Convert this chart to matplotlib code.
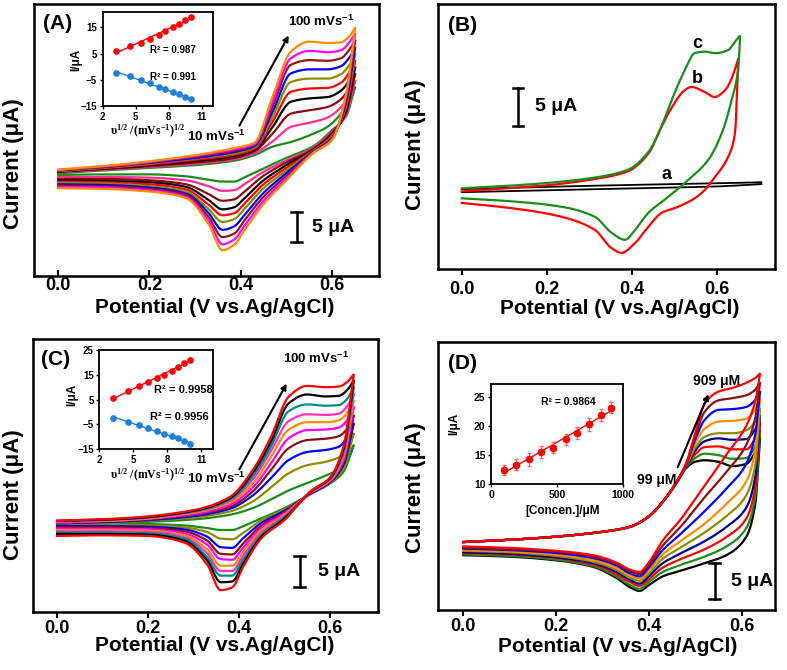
import numpy as np
import matplotlib
matplotlib.use('Agg')
import matplotlib.pyplot as plt

plt.rcParams['font.family'] = ['Liberation Sans', 'DejaVu Sans']
plt.rcParams['font.weight'] = 'bold'
plt.rcParams['mathtext.default'] = 'regular'
plt.rcParams['axes.linewidth'] = 1.8

# ---------------- (A) scan rates 10..100 mV/s ----------------
A_COLORS = ['#1a8c1a', '#ff2d95', '#8b0a0a', '#000000', '#ff0000',
            '#8c8c00', '#0000ff', '#8b1a1a', '#ff00ff', '#ff8c00']
A_UP_V = [0, 0.15, 0.30, 0.38, 0.43, 0.47, 0.51, 0.55, 0.59, 0.62, 0.64, 0.651]
A_UP_I = [
    [0.3, 0.9, 1.5, 2.1, 3.0, 4.3, 5.0, 6.0, 7.3, 9.3, 11.4, 13.4],
    [0.4, 1.0, 1.7, 2.3, 3.3, 5.1, 7.3, 7.9, 8.7, 10.3, 12.5, 14.4],
    [0.5, 1.1, 1.9, 2.5, 3.6, 6.3, 9.3, 9.8, 10.3, 11.5, 13.5, 15.4],
    [0.5, 1.2, 2.1, 2.8, 3.8, 7.3, 11.1, 11.6, 11.8, 12.8, 14.6, 16.4],
    [0.6, 1.3, 2.3, 3.0, 4.0, 8.1, 12.6, 13.1, 13.2, 14.0, 15.8, 17.4],
    [0.6, 1.4, 2.5, 3.2, 4.2, 8.8, 14.1, 14.6, 14.6, 15.3, 16.9, 18.4],
    [0.7, 1.5, 2.6, 3.4, 4.4, 9.6, 15.4, 16.0, 16.0, 16.5, 18.0, 19.4],
    [0.7, 1.5, 2.8, 3.6, 4.6, 10.4, 16.7, 17.4, 17.3, 17.7, 19.2, 20.5],
    [0.8, 1.6, 2.9, 3.8, 4.7, 11.1, 17.7, 18.8, 18.6, 18.9, 20.3, 21.5],
    [0.8, 1.7, 3.0, 4.0, 4.9, 11.9, 18.7, 20.2, 20.0, 20.1, 21.2, 22.4],
]
A_LO_V = [0, 0.10, 0.20, 0.28, 0.33, 0.36, 0.385, 0.41, 0.45, 0.50, 0.56, 0.60, 0.63, 0.651]
A_LO_I = [
    [0.0, 0.1, 0.1, -0.2, -0.7, -1.0, -1.0, -0.3, 1.0, 2.6, 4.4, 6.8, 8.8, 13.4],
    [-0.3, -0.3, -0.4, -0.8, -1.7, -2.4, -2.3, -1.3, 0.5, 2.2, 4.2, 6.6, 9.0, 14.4],
    [-0.6, -0.6, -0.8, -1.4, -2.9, -3.9, -3.7, -2.4, -0.1, 1.9, 4.0, 6.4, 9.3, 15.4],
    [-0.8, -0.9, -1.1, -1.8, -3.8, -5.2, -4.9, -3.4, -0.8, 1.5, 3.9, 6.2, 9.6, 16.4],
    [-1.0, -1.1, -1.4, -2.2, -4.5, -6.1, -5.8, -4.2, -1.4, 1.1, 3.8, 6.0, 10.0, 17.4],
    [-1.2, -1.3, -1.7, -2.5, -5.2, -7.1, -6.7, -5.0, -2.0, 0.7, 3.7, 5.8, 10.4, 18.4],
    [-1.4, -1.5, -1.9, -2.8, -5.8, -8.3, -7.8, -5.9, -2.7, 0.3, 3.6, 5.6, 10.8, 19.4],
    [-1.6, -1.7, -2.1, -3.0, -6.4, -9.4, -8.9, -6.7, -3.3, -0.1, 3.5, 5.5, 11.2, 20.5],
    [-1.8, -1.9, -2.3, -3.3, -7.0, -10.5, -9.8, -7.5, -3.9, -0.5, 3.4, 5.4, 11.6, 21.5],
    [-2.0, -2.1, -2.5, -3.5, -7.5, -11.4, -10.6, -8.2, -4.4, -0.8, 3.4, 5.3, 12.0, 22.4],
]
A_SQRT_RATE = [3.2, 4.5, 5.5, 6.3, 7.1, 7.7, 8.4, 8.9, 9.5, 10.0]
A_IPA = [6.0, 7.8, 9.2, 10.7, 12.2, 13.7, 15.0, 16.4, 17.7, 19.0]
A_IPC = [-2.3, -3.6, -5.1, -6.4, -7.7, -8.7, -9.6, -10.6, -11.5, -12.5]

# ---------------- (B) electrodes a, b, c ----------------
B_A_UP_V = [0, 0.2, 0.4, 0.6, 0.705]
B_A_UP_I = [0.1, 0.4, 0.65, 0.85, 1.0]
B_A_LO_V = [0, 0.2, 0.4, 0.6, 0.705]
B_A_LO_I = [-0.3, -0.05, 0.2, 0.45, 0.75]
B_B_UP_V = [0, 0.1, 0.2, 0.3, 0.39, 0.44, 0.47, 0.495, 0.525, 0.54, 0.57, 0.595, 0.62, 0.635, 0.651]
B_B_UP_I = [-0.2, 0.2, 0.6, 1.3, 2.4, 4.8, 8.2, 10.8, 13.0, 13.4, 12.8, 12.1, 13.0, 14.5, 17.1]
B_B_LO_V = [0, 0.12, 0.235, 0.313, 0.353, 0.376, 0.408, 0.439, 0.47, 0.509, 0.548, 0.572, 0.596, 0.627, 0.643, 0.651]
B_B_LO_I = [-1.7, -2.4, -3.5, -5.2, -7.6, -8.2, -6.9, -4.8, -3.0, -2.2, -1.1, 0.0, 1.7, 4.3, 7.4, 17.1]
B_C_UP_V = [0, 0.1, 0.2, 0.3, 0.39, 0.44, 0.47, 0.494, 0.525, 0.548, 0.572, 0.596, 0.627, 0.643, 0.655]
B_C_UP_I = [0.2, 0.5, 0.9, 1.5, 2.6, 5.0, 8.3, 11.7, 15.6, 17.8, 18.0, 17.8, 18.2, 19.3, 20.1]
B_C_LO_V = [0, 0.12, 0.235, 0.313, 0.353, 0.384, 0.408, 0.439, 0.486, 0.533, 0.58, 0.612, 0.635, 0.651, 0.655]
B_C_LO_I = [-1.1, -1.5, -2.2, -3.5, -5.6, -6.5, -5.2, -3.0, -0.9, 1.3, 3.9, 7.4, 11.7, 16.0, 20.1]

# ---------------- (C) scan rates 10..100 mV/s ----------------
C_COLORS = ['#1a8c1a', '#8c8c00', '#0000ff', '#8b1010', '#ff00ff',
            '#ff8c00', '#ff33bb', '#008b8b', '#000000', '#ff0000']
C_UP_V = [0, 0.15, 0.30, 0.38, 0.43, 0.47, 0.51, 0.55, 0.59, 0.62, 0.64, 0.653]
C_UP_I = [
    [0.8, 1.1, 1.6, 2.3, 3.3, 4.6, 6.0, 7.1, 8.2, 9.2, 10.8, 12.9],
    [0.9, 1.2, 1.9, 2.8, 4.3, 6.4, 8.6, 9.8, 10.3, 11.0, 12.6, 14.7],
    [1.0, 1.3, 2.1, 3.2, 5.2, 7.8, 10.6, 11.8, 12.1, 12.6, 14.2, 16.2],
    [1.0, 1.4, 2.3, 3.5, 5.8, 9.0, 12.4, 13.6, 13.8, 14.2, 15.5, 17.4],
    [1.1, 1.5, 2.4, 3.8, 6.4, 10.0, 13.9, 15.1, 15.2, 15.5, 16.8, 18.7],
    [1.2, 1.5, 2.6, 4.1, 7.0, 11.0, 15.2, 16.3, 16.3, 16.6, 17.9, 19.7],
    [1.2, 1.6, 2.7, 4.4, 7.6, 11.9, 16.5, 17.5, 17.4, 17.6, 18.9, 20.7],
    [1.3, 1.7, 2.8, 4.6, 8.1, 12.6, 18.0, 19.0, 18.8, 18.9, 20.0, 21.7],
    [1.4, 1.7, 2.9, 4.8, 8.6, 13.3, 19.2, 20.5, 20.2, 20.3, 21.3, 22.7],
    [1.4, 1.8, 3.0, 5.0, 9.0, 14.0, 20.2, 21.8, 21.6, 21.7, 22.5, 23.6],
]
C_LO_V = [0, 0.10, 0.20, 0.28, 0.33, 0.36, 0.385, 0.41, 0.45, 0.50, 0.56, 0.60, 0.63, 0.653]
C_LO_I = [
    [1.0, 1.0, 0.9, 0.7, 0.3, 0.0, 0.0, 0.6, 1.8, 3.3, 5.5, 7.0, 8.8, 12.9],
    [0.8, 0.8, 0.7, 0.4, -0.3, -1.3, -1.4, -0.4, 1.5, 3.1, 5.6, 7.1, 9.3, 14.7],
    [0.6, 0.6, 0.5, 0.1, -1.0, -2.6, -2.7, -1.2, 1.1, 2.9, 5.6, 7.2, 9.8, 16.2],
    [0.4, 0.4, 0.3, -0.2, -1.6, -3.6, -3.7, -2.0, 0.7, 2.7, 5.7, 7.3, 10.2, 17.4],
    [0.2, 0.2, 0.1, -0.5, -2.2, -4.4, -4.5, -2.6, 0.4, 2.5, 5.7, 7.4, 10.6, 18.7],
    [0.0, 0.0, -0.1, -0.8, -2.9, -5.4, -5.4, -3.2, 0.0, 2.3, 5.8, 7.5, 11.0, 19.7],
    [-0.2, -0.2, -0.3, -1.1, -3.5, -6.2, -6.2, -3.8, -0.4, 2.1, 5.8, 7.6, 11.4, 20.7],
    [-0.4, -0.4, -0.5, -1.3, -4.1, -6.9, -6.9, -4.4, -0.7, 1.9, 5.9, 7.7, 11.8, 21.7],
    [-0.6, -0.6, -0.7, -1.6, -4.6, -7.9, -7.8, -5.0, -1.0, 1.7, 5.9, 7.8, 12.2, 22.7],
    [-0.9, -0.8, -0.9, -1.9, -5.2, -9.1, -8.7, -5.5, -1.2, 1.5, 6.0, 7.9, 12.6, 23.6],
]
C_IPA = [5.7, 8.4, 10.3, 12.1, 13.6, 15.1, 16.7, 18.3, 19.8, 21.0]
C_IPC = [-2.2, -3.9, -5.2, -6.6, -7.7, -8.8, -9.7, -10.6, -11.7, -12.7]

# ---------------- (D) concentrations 99..909 uM ----------------
D_COLORS = ['#000000', '#1a8c1a', '#ff0000', '#00008b', '#8c8c00',
            '#ff8c00', '#0000ff', '#8b1010', '#ff0000']
D_UP_V = [0, 0.15, 0.30, 0.36, 0.40, 0.43, 0.46, 0.48, 0.50, 0.52, 0.55, 0.58, 0.61, 0.63, 0.64]
D_UP_I = [
    [1.1, 1.6, 2.5, 3.2, 4.6, 6.6, 9.2, 11.2, 12.1, 12.3, 12.1, 11.5, 11.8, 13.5, 15.5],
    [1.1, 1.6, 2.5, 3.2, 4.6, 6.6, 9.2, 11.3, 12.6, 13.2, 13.0, 12.5, 12.6, 14.3, 16.5],
    [1.1, 1.6, 2.5, 3.2, 4.6, 6.6, 9.2, 11.4, 13.1, 14.1, 14.2, 13.8, 13.8, 15.4, 17.5],
    [1.1, 1.6, 2.5, 3.2, 4.6, 6.6, 9.3, 11.4, 13.6, 14.9, 15.3, 15.1, 15.2, 16.6, 18.5],
    [1.1, 1.6, 2.5, 3.2, 4.6, 6.6, 9.3, 11.5, 14.0, 15.5, 16.0, 16.0, 16.4, 17.7, 19.5],
    [1.1, 1.6, 2.5, 3.2, 4.6, 6.6, 9.3, 11.6, 14.6, 16.6, 17.6, 17.7, 18.0, 19.3, 20.8],
    [1.1, 1.6, 2.5, 3.2, 4.6, 6.6, 9.3, 11.6, 15.1, 17.8, 19.2, 19.3, 19.6, 20.6, 21.8],
    [1.1, 1.6, 2.5, 3.2, 4.6, 6.6, 9.4, 11.7, 15.6, 18.9, 20.5, 20.8, 21.2, 22.0, 23.0],
    [1.1, 1.6, 2.5, 3.2, 4.6, 6.6, 9.4, 11.8, 16.0, 20.0, 21.7, 22.2, 22.9, 23.6, 24.2],
]
D_LO_V = [0, 0.10, 0.20, 0.28, 0.33, 0.36, 0.38, 0.40, 0.43, 0.47, 0.52, 0.57, 0.61, 0.63, 0.64]
D_LO_I = [
    [-0.7, -0.9, -1.4, -2.3, -3.8, -5.1, -5.6, -4.8, -3.6, -2.8, -1.8, -0.6, 1.8, 6.5, 15.5],
    [-0.6, -0.8, -1.3, -2.2, -3.6, -4.8, -5.3, -4.4, -3.0, -2.0, -0.9, 0.6, 3.0, 7.5, 16.5],
    [-0.4, -0.6, -1.1, -2.0, -3.3, -4.4, -4.9, -4.0, -2.4, -1.2, 0.1, 1.9, 4.3, 8.8, 17.5],
    [-0.3, -0.5, -1.0, -1.8, -3.0, -4.1, -4.6, -3.6, -1.8, -0.4, 1.2, 3.3, 5.8, 10.2, 18.5],
    [-0.1, -0.3, -0.8, -1.6, -2.7, -3.8, -4.2, -3.2, -1.2, 0.4, 2.4, 4.8, 7.5, 11.8, 19.5],
    [0.0, -0.2, -0.6, -1.4, -2.4, -3.5, -3.9, -2.8, -0.6, 1.3, 3.6, 6.5, 9.4, 13.8, 20.8],
    [0.2, 0.0, -0.4, -1.1, -2.1, -3.2, -3.6, -2.4, 0.0, 2.3, 5.3, 8.6, 11.8, 16.0, 21.8],
    [0.3, 0.1, -0.2, -0.9, -1.9, -2.9, -3.3, -2.0, 0.6, 3.3, 7.2, 10.9, 14.4, 18.2, 23.0],
    [0.5, 0.3, -0.1, -0.7, -1.7, -2.7, -3.0, -1.7, 1.3, 4.3, 8.8, 13.3, 17.0, 20.5, 24.2],
]
D_CONC = [99, 190, 285, 380, 470, 565, 650, 740, 830, 909]
D_IP = [12.5, 13.4, 14.3, 15.5, 16.3, 17.7, 18.8, 20.3, 21.9, 23.2]
D_ERR = [0.9, 1.0, 1.1, 1.0, 1.0, 1.0, 1.0, 1.1, 1.0, 1.0]


def pchip(x, y, xn):
    """Monotone cubic through the read points, only to draw smooth lines."""
    x = np.asarray(x, float)
    y = np.asarray(y, float)
    h = np.diff(x)
    d = np.diff(y) / h
    m = np.zeros_like(y)
    for k in range(1, len(x) - 1):
        if d[k - 1] * d[k] > 0:
            w1 = 2 * h[k] + h[k - 1]
            w2 = h[k] + 2 * h[k - 1]
            m[k] = (w1 + w2) / (w1 / d[k - 1] + w2 / d[k])
    m[0], m[-1] = d[0], d[-1]
    k = np.clip(np.searchsorted(x, xn) - 1, 0, len(h) - 1)
    t = (xn - x[k]) / h[k]
    return ((2 * t**3 - 3 * t**2 + 1) * y[k] + (t**3 - 2 * t**2 + t) * h[k] * m[k]
            + (-2 * t**3 + 3 * t**2) * y[k + 1] + (t**3 - t**2) * h[k] * m[k + 1])


def cv_loop(ax, up_v, up_i, lo_v, lo_i, color, lw=1.6):
    vu = np.linspace(up_v[0], up_v[-1], 300)
    vl = np.linspace(lo_v[-1], lo_v[0], 300)
    ax.plot(np.r_[vu, vl], np.r_[pchip(up_v, up_i, vu), pchip(lo_v, lo_i, vl)],
            color=color, lw=lw, solid_joinstyle='miter')


def style_main(ax, xlim, ylim, tickdir, pad, xlab_xy, ylab_xy):
    ax.set_xlim(xlim)
    ax.set_ylim(ylim)
    ax.set_xticks([0, 0.2, 0.4, 0.6])
    ax.set_xticklabels(['0.0', '0.2', '0.4', '0.6'])
    ax.set_yticks([])
    ax.tick_params(axis='x', direction=tickdir, length=4, width=1.5,
                   labelsize=13, pad=pad)
    ax.set_xlabel('Potential (V vs.Ag/AgCl)', fontsize=15, fontweight='bold')
    ax.set_ylabel('Current (μA)', fontsize=16, fontweight='bold')
    ax.xaxis.set_label_coords(*xlab_xy)
    ax.yaxis.set_label_coords(*ylab_xy)
    ax.xaxis.label.set_va('center')
    ax.yaxis.label.set_va('center')


def scale_bar(ax, x, y0, y1, tx, ty):
    ax.plot([x, x], [y0, y1], color='k', lw=1.8)
    dx = 0.012
    ax.plot([x - dx, x + dx], [y0, y0], color='k', lw=1.8)
    ax.plot([x - dx, x + dx], [y1, y1], color='k', lw=1.8)
    ax.text(tx, ty, '5 μA', fontsize=14, fontweight='bold', va='center', ha='left')


def style_inset(ax, xlim, ylim, xticks, yticks, fs):
    ax.set_xlim(xlim)
    ax.set_ylim(ylim)
    ax.set_xticks(xticks)
    ax.set_yticks(yticks)
    ax.tick_params(direction='out', length=2.5, width=1, labelsize=fs, pad=1.5)
    for s in ax.spines.values():
        s.set_linewidth(1.3)


def rate_inset(ax, ipa, ipc, fs, r2a, r2c, pos_a, pos_c, r2fs, ylim, yticks, ylab_xy, xlab_xy):
    x = np.asarray(A_SQRT_RATE)
    for vals, col in ((ipa, '#ff0000'), (ipc, '#1e7fd8')):
        p = np.polyfit(x, vals, 1)
        ax.plot(x, np.polyval(p, x), color=col, lw=1)
        ax.plot(x, vals, 'o', color=col, ms=3.8)
    style_inset(ax, (2, 12), ylim, [2, 5, 8, 11], yticks, fs)
    ax.text(*pos_a, 'R² = ' + r2a, fontsize=r2fs, fontweight='bold', va='center')
    ax.text(*pos_c, 'R² = ' + r2c, fontsize=r2fs, fontweight='bold', va='center')
    ax.set_ylabel('I/μA', fontsize=8.5, fontweight='bold')
    ax.yaxis.set_label_coords(*ylab_xy)
    ax.yaxis.label.set_va('center')
    ax.set_xlabel('υ$^{1/2}$ /(mVs$^{-1}$)$^{1/2}$', fontsize=8.5, fontweight='bold',
                  family='Liberation Serif')
    ax.xaxis.set_label_coords(*xlab_xy)
    ax.xaxis.label.set_va('center')


fig = plt.figure(figsize=(7.87, 6.70), dpi=100)

# ---- A ----
axA = fig.add_axes([0.0432, 0.588, 0.4384, 0.406])
for col, ui, li in zip(A_COLORS, A_UP_I, A_LO_I):
    cv_loop(axA, A_UP_V, ui, A_LO_V, li, col)
style_main(axA, (-0.053, 0.703), (-15.3, 25.9), 'in', 1.0, (0.525, -0.115), (-0.059, 0.415))
axA.text(-0.034, 23.0, '(A)', fontsize=15, fontweight='bold', va='center')
axA.text(0.504, 23.2, '100 mVs$^{-1}$', fontsize=9.5, fontweight='bold', va='center')
axA.text(0.282, 5.8, '10 mVs$^{-1}$', fontsize=9.5, fontweight='bold', va='center')
axA.annotate('', xy=(0.508, 21.5), xytext=(0.394, 7.1),
             arrowprops=dict(arrowstyle='-|>', lw=1.5, color='k', mutation_scale=8))
scale_bar(axA, 0.523, -5.6, -10.2, 0.557, -8.0)

insA = fig.add_axes([0.1305, 0.8418, 0.1398, 0.1408])
rate_inset(insA, A_IPA, A_IPC, 7, '0.987', '0.991', (6.3, 6.4), (6.3, -4.1), 7,
           (-15, 21), [-15, -5, 5, 15], (-0.24, 0.49), (0.41, -0.27))

# ---- B ----
axB = fig.add_axes([0.5565, 0.5985, 0.4282, 0.3955])
cv_loop(axB, B_A_UP_V, B_A_UP_I, B_A_LO_V, B_A_LO_I, '#000000', lw=1.3)
cv_loop(axB, B_B_UP_V, B_B_UP_I, B_B_LO_V, B_B_LO_I, '#ff0000')
cv_loop(axB, B_C_UP_V, B_C_UP_I, B_C_LO_V, B_C_LO_I, '#1a8c1a')
style_main(axB, (-0.056, 0.737), (-10.3, 24.2), 'out', 4.5, (0.54, -0.15), (-0.068, 0.47))
axB.text(-0.032, 21.4, '(B)', fontsize=15, fontweight='bold', va='center')
axB.text(0.555, 19.1, 'c', fontsize=13, fontweight='bold', va='center', ha='center')
axB.text(0.555, 14.5, 'b', fontsize=13, fontweight='bold', va='center', ha='center')
axB.text(0.481, 1.95, 'a', fontsize=13, fontweight='bold', va='center', ha='center')
scale_bar(axB, 0.133, 13.3, 8.3, 0.172, 10.8)

# ---- C ----
axC = fig.add_axes([0.0419, 0.0866, 0.4384, 0.4075])
for col, ui, li in zip(C_COLORS, C_UP_I, C_LO_I):
    cv_loop(axC, C_UP_V, ui, C_LO_V, li, col)
style_main(axC, (-0.053, 0.706), (-12.4, 28.9), 'out', 1.5, (0.528, -0.123), (-0.057, 0.43))
axC.text(-0.036, 25.8, '(C)', fontsize=15, fontweight='bold', va='center')
axC.text(0.497, 26.0, '100 mVs$^{-1}$', fontsize=9.5, fontweight='bold', va='center')
axC.text(0.285, 7.8, '10 mVs$^{-1}$', fontsize=9.5, fontweight='bold', va='center')
axC.annotate('', xy=(0.508, 22.5), xytext=(0.398, 8.8),
             arrowprops=dict(arrowstyle='-|>', lw=1.5, color='k', mutation_scale=8))
scale_bar(axC, 0.534, -3.9, -8.6, 0.574, -6.3)

insC = fig.add_axes([0.1262, 0.3294, 0.1441, 0.1482])
rate_inset(insC, C_IPA, C_IPC, 7, '0.9958', '0.9956', (6.8, 8.7), (6.5, -2.0), 8,
           (-15, 25), [-15, -5, 5, 15, 25], (-0.24, 0.55), (0.43, -0.26))

# ---- D ----
axD = fig.add_axes([0.5565, 0.0896, 0.4282, 0.4])
for col, ui, li in zip(D_COLORS, D_UP_I, D_LO_I):
    cv_loop(axD, D_UP_V, ui, D_LO_V, li, col)
style_main(axD, (-0.0545, 0.672), (-8.2, 28.5), 'out', 1.5, (0.533, -0.135), (-0.067, 0.457))
axD.text(-0.033, 25.6, '(D)', fontsize=15, fontweight='bold', va='center')
axD.text(0.495, 23.1, '909 μM', fontsize=10, fontweight='bold', va='center')
axD.text(0.374, 9.6, '99 μM', fontsize=10, fontweight='bold', va='center')
axD.annotate('', xy=(0.531, 21.7), xytext=(0.46, 11.0),
             arrowprops=dict(arrowstyle='-|>', lw=1.5, color='k', mutation_scale=8))
scale_bar(axD, 0.542, -1.7, -6.7, 0.578, -4.3)

insD = fig.add_axes([0.6239, 0.2772, 0.1677, 0.1493])
p = np.polyfit(D_CONC, D_IP, 1)
xc = np.asarray(D_CONC, float)
insD.plot(xc, np.polyval(p, xc), color='#ff0000', lw=1)
insD.errorbar(D_CONC, D_IP, yerr=D_ERR, fmt='o', color='#ff0000', ms=4.5,
              ecolor='#ff6060', elinewidth=0.8, capsize=1.5)
style_inset(insD, (0, 1000), (10, 27.2), [0, 500, 1000], [10, 15, 20, 25], 7.5)
insD.text(380, 24.2, 'R² = 0.9864', fontsize=7.5, fontweight='bold', va='center')
insD.set_ylabel('I/μA', fontsize=8.5, fontweight='bold')
insD.yaxis.set_label_coords(-0.28, 0.6)
insD.yaxis.label.set_va('center')
insD.set_xlabel('[Concen.]/μM', fontsize=8.5, fontweight='bold')
insD.xaxis.set_label_coords(0.54, -0.27)
insD.xaxis.label.set_va('center')

fig.savefig('out.png', dpi=100)
